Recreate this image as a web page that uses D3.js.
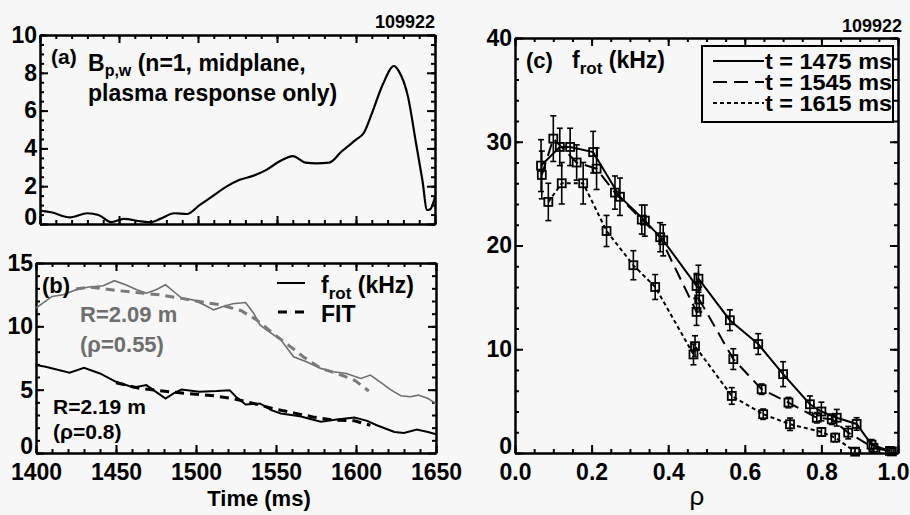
<!DOCTYPE html>
<html>
<head>
<meta charset="utf-8">
<script src="https://cdn.jsdelivr.net/npm/d3@7"></script>
<style>
  body { margin: 0; background: #f7f7f7; }
  svg { display: block; font-family: "Liberation Sans", Arial, sans-serif; font-weight: bold; }
  .tick text { font-size: 23px; font-family: "Liberation Sans", Arial, sans-serif; font-weight: bold; fill: #000; }
  .domain, .tick line { stroke: #000; stroke-width: 2; }
</style>
</head>
<body>
<div id="chart"></div>
<script>
// ---- panel (a): Bp,w vs time
var timeA = [1401, 1407, 1419, 1430, 1437, 1445, 1453, 1464, 1470, 1476, 1485, 1493, 1501, 1510, 1518, 1526, 1535, 1543, 1552, 1560, 1568, 1575, 1583, 1591, 1600, 1605, 1610, 1617, 1624, 1627, 1633, 1638, 1642, 1645, 1647, 1650];
var bpwA = [0.69, 0.62, 0.35, 0.57, 0.48, 0.1, 0.27, 0.14, 0.1, 0.27, 0.57, 0.53, 1.0, 1.52, 1.98, 2.33, 2.55, 2.85, 3.33, 3.59, 3.25, 3.21, 3.25, 3.85, 4.46, 4.83, 5.84, 7.39, 8.36, 8.1, 6.7, 4.27, 2.33, 0.74, 0.78, 1.43];

// ---- panel (b): frot at two radii, measured and fit
var timeR209 = [1400, 1410, 1417, 1425, 1433, 1442, 1449, 1456, 1463, 1469, 1475, 1481, 1486, 1491, 1498, 1505, 1511, 1517, 1523, 1531, 1536, 1540, 1544, 1553, 1561, 1569, 1578, 1586, 1594, 1603, 1609, 1615, 1622, 1628, 1634, 1639, 1645, 1650];
var frotR209 = [11.43, 12.36, 12.49, 12.89, 13.1, 13.2, 13.6, 13.28, 12.89, 12.62, 12.89, 13.28, 12.75, 12.23, 12.09, 11.7, 11.3, 11.57, 11.78, 11.88, 11.04, 10.11, 9.72, 8.93, 7.6, 7.21, 6.68, 6.42, 6.28, 5.89, 6.15, 5.62, 4.96, 4.52, 4.44, 4.57, 4.3, 3.9];
var timeFit209 = [1425, 1433, 1453, 1467, 1477, 1490, 1502, 1515, 1528, 1538, 1548, 1559, 1567, 1578, 1588, 1599, 1608];
var fitR209 = [12.94, 13.1, 12.8, 12.62, 12.49, 12.23, 11.96, 11.7, 11.25, 10.5, 9.45, 8.4, 7.6, 6.68, 6.28, 5.76, 4.89];

var timeR219 = [1400, 1406, 1421, 1430, 1440, 1450, 1461, 1469, 1475, 1481, 1486, 1491, 1502, 1513, 1521, 1525, 1531, 1540, 1547, 1553, 1565, 1578, 1588, 1599, 1607, 1613, 1624, 1630, 1638, 1645, 1650];
var frotR219 = [6.94, 6.81, 6.34, 6.73, 6.28, 5.62, 5.18, 5.36, 4.83, 4.3, 4.7, 5.02, 4.83, 4.89, 4.96, 4.44, 3.83, 3.91, 3.38, 3.12, 2.9, 2.46, 2.64, 2.8, 2.54, 2.19, 1.66, 1.58, 1.85, 1.66, 1.48];
var timeFit219 = [1450, 1465, 1479, 1494, 1511, 1523, 1536, 1548, 1561, 1573, 1586, 1599, 1609];
var fitR219 = [5.55, 5.1, 4.89, 4.7, 4.52, 4.3, 3.91, 3.51, 3.17, 2.85, 2.59, 2.54, 2.19];

// ---- panel (c): frot profiles vs rho
var rho1475 = [0.068, 0.117, 0.144, 0.204, 0.274, 0.339, 0.387, 0.474, 0.479, 0.561, 0.635, 0.700, 0.770, 0.800, 0.840, 0.892, 0.931, 0.979];
var frot1475 = [27.7, 29.5, 29.5, 29.0, 24.7, 22.4, 20.5, 16.1, 16.8, 12.8, 10.5, 7.6, 4.7, 4.0, 3.4, 2.8, 0.8, 0.2];
var err1475 = [2.5, 1.8, 1.8, 2.0, 1.8, 1.5, 1.5, 1.2, 1.3, 1.0, 1.0, 1.2, 0.8, 0.9, 0.8, 0.6, 0.5, 0.4];

var rho1545 = [0.070, 0.100, 0.161, 0.213, 0.261, 0.331, 0.379, 0.474, 0.481, 0.570, 0.644, 0.714, 0.788, 0.827, 0.870, 0.936, 0.984];
var frot1545 = [26.8, 30.3, 28.0, 27.4, 25.1, 22.5, 20.8, 13.6, 14.8, 9.05, 6.15, 4.86, 3.4, 3.25, 1.96, 0.5, 0.15];
var err1545 = [2.3, 2.2, 1.7, 2.0, 1.6, 1.4, 1.4, 1.3, 1.2, 1.0, 0.5, 0.5, 0.5, 0.5, 0.6, 0.4, 0.3];

var rho1615 = [0.087, 0.122, 0.178, 0.239, 0.309, 0.366, 0.466, 0.470, 0.566, 0.648, 0.718, 0.800, 0.836, 0.888];
var frot1615 = [24.2, 26.0, 26.0, 21.4, 18.1, 16.0, 9.5, 10.3, 5.5, 3.74, 2.77, 2.03, 1.48, 0.13];
var err1615 = [1.8, 2.0, 2.0, 1.5, 1.4, 1.2, 1.0, 1.0, 0.8, 0.5, 0.6, 0.4, 0.4, 0.3];

var legendLabels = ["t = 1475 ms", "t = 1545 ms", "t = 1615 ms"];

var timeTicks = [1400, 1450, 1500, 1550, 1600, 1650];
var bpwTicks = [0, 2, 4, 6, 8, 10];
var frotBTicks = [0, 5, 10, 15];
var frotCTicks = [0, 10, 20, 30, 40];
var rhoTicks = [0, 0.2, 0.4, 0.6, 0.8, 1.0];

var svg = d3.select("#chart")
    .append("svg")
    .attr("width", 910)
    .attr("height", 515);

// scales
var xA = d3.scaleLinear().domain([1400, 1650]).range([40, 435]);
var yA = d3.scaleLinear().domain([0, 10]).range([224, 35]);
var xB = d3.scaleLinear().domain([1400, 1650]).range([36, 436]);
var yB = d3.scaleLinear().domain([0, 15]).range([453, 263]);
var xC = d3.scaleLinear().domain([0, 1]).range([515, 898]);
var yC = d3.scaleLinear().domain([0, 40]).range([453, 38]);

// box with inward ticks on all four sides
function drawFrame(x, y, xMajor, xMinor, yMajor, yMinor, xFmt, yFmt) {
    var left = x.range()[0], right = x.range()[1];
    var bottom = y.range()[0], top = y.range()[1];
    var g = svg.append("g");

    g.append("g").attr("transform", "translate(0," + bottom + ")")
        .call(d3.axisBottom(x).tickValues(xMinor).tickSize(-4).tickSizeOuter(0).tickFormat(""));
    g.append("g").attr("transform", "translate(0," + top + ")")
        .call(d3.axisTop(x).tickValues(xMinor).tickSize(-4).tickSizeOuter(0).tickFormat(""));
    g.append("g").attr("transform", "translate(" + left + ",0)")
        .call(d3.axisLeft(y).tickValues(yMinor).tickSize(-4).tickSizeOuter(0).tickFormat(""));
    g.append("g").attr("transform", "translate(" + right + ",0)")
        .call(d3.axisRight(y).tickValues(yMinor).tickSize(-4).tickSizeOuter(0).tickFormat(""));

    var xb = g.append("g").attr("transform", "translate(0," + bottom + ")")
        .call(d3.axisBottom(x).tickValues(xMajor).tickSize(-8).tickSizeOuter(0).tickPadding(11).tickFormat(xFmt));
    g.append("g").attr("transform", "translate(0," + top + ")")
        .call(d3.axisTop(x).tickValues(xMajor).tickSize(-8).tickSizeOuter(0).tickFormat(""));
    var yl = g.append("g").attr("transform", "translate(" + left + ",0)")
        .call(d3.axisLeft(y).tickValues(yMajor).tickSize(-8).tickSizeOuter(0).tickPadding(3).tickFormat(yFmt));
    g.append("g").attr("transform", "translate(" + right + ",0)")
        .call(d3.axisRight(y).tickValues(yMajor).tickSize(-8).tickSizeOuter(0).tickFormat(""));

    // the zero label sits a little above the bottom edge, as in the original
    yl.selectAll(".tick text").filter(function (d) { return d === 0; }).attr("y", -7);
    return { xAxis: xb, yAxis: yl };
}

function zip(xs, ys) { return xs.map(function (d, i) { return [d, ys[i]]; }); }

var fmtInt = d3.format("d");
var blank = function () { return ""; };

// ---------- panel (a)
drawFrame(xA, yA, timeTicks, d3.range(1400, 1651, 10), bpwTicks, d3.range(0, 10.01, 0.5), blank, fmtInt);

var lineA = d3.line()
    .x(function (d) { return xA(d[0]); })
    .y(function (d) { return yA(d[1]); })
    .curve(d3.curveMonotoneX);

svg.append("path")
    .datum(zip(timeA, bpwA))
    .attr("fill", "none")
    .attr("stroke", "#000")
    .attr("stroke-width", 2.2)
    .attr("d", lineA);

svg.append("text").attr("x", 435).attr("y", 28).attr("text-anchor", "end")
    .attr("font-size", 18).text("109922");
svg.append("text").attr("x", 51).attr("y", 64).attr("font-size", 21).text("(a)");
var tA = svg.append("text").attr("x", 88).attr("y", 71).attr("font-size", 23);
tA.append("tspan").text("B");
tA.append("tspan").attr("font-size", 16).attr("dy", 5).text("p,w");
tA.append("tspan").attr("dy", -5).text(" (n=1, midplane,");
svg.append("text").attr("x", 88).attr("y", 101).attr("font-size", 23).text("plasma response only)");

// ---------- panel (b)
drawFrame(xB, yB, timeTicks, d3.range(1400, 1651, 10), frotBTicks, d3.range(0, 15.01, 1), fmtInt, fmtInt);

var lineB = d3.line()
    .x(function (d) { return xB(d[0]); })
    .y(function (d) { return yB(d[1]); });

svg.append("path").datum(zip(timeR209, frotR209))
    .attr("fill", "none").attr("stroke", "#6e6e6e").attr("stroke-width", 1.6).attr("d", lineB);
svg.append("path").datum(zip(timeFit209, fitR209))
    .attr("fill", "none").attr("stroke", "#7a7a7a").attr("stroke-width", 3)
    .attr("stroke-dasharray", "9,6").attr("d", lineB);
svg.append("path").datum(zip(timeR219, frotR219))
    .attr("fill", "none").attr("stroke", "#000").attr("stroke-width", 2).attr("d", lineB);
svg.append("path").datum(zip(timeFit219, fitR219))
    .attr("fill", "none").attr("stroke", "#000").attr("stroke-width", 3)
    .attr("stroke-dasharray", "9,6").attr("d", lineB);

svg.append("text").attr("x", 42).attr("y", 293).attr("font-size", 22).text("(b)");
svg.append("text").attr("x", 80).attr("y", 322).attr("font-size", 22)
    .attr("fill", "#6e6e6e").text("R=2.09 m");
svg.append("text").attr("x", 80).attr("y", 352).attr("font-size", 22)
    .attr("fill", "#6e6e6e").text("(\u03c1=0.55)");
svg.append("text").attr("x", 53).attr("y", 414).attr("font-size", 21).text("R=2.19 m");
svg.append("text").attr("x", 53).attr("y", 439).attr("font-size", 21).text("(\u03c1=0.8)");

// legend (b)
svg.append("line").attr("x1", 277).attr("x2", 305).attr("y1", 283).attr("y2", 283)
    .attr("stroke", "#000").attr("stroke-width", 2);
svg.append("line").attr("x1", 278).attr("x2", 304).attr("y1", 312).attr("y2", 312)
    .attr("stroke", "#000").attr("stroke-width", 3).attr("stroke-dasharray", "9,8");
var lgB = svg.append("text").attr("x", 321).attr("y", 293).attr("font-size", 23);
lgB.append("tspan").text("f");
lgB.append("tspan").attr("font-size", 17).attr("dy", 6).text("rot");
lgB.append("tspan").attr("dy", -6).text("  (kHz)");
svg.append("text").attr("x", 321).attr("y", 322).attr("font-size", 23).text("FIT");

svg.append("text").attr("x", 259).attr("y", 506).attr("text-anchor", "middle")
    .attr("font-size", 22).text("Time (ms)");

// ---------- panel (c)
var fc = drawFrame(xC, yC, rhoTicks, d3.range(0, 1.001, 0.05), frotCTicks, d3.range(0, 40.01, 2),
    d3.format(".1f"), fmtInt);
// last rho label hugs the right edge of the page
fc.xAxis.selectAll(".tick text").filter(function (d) { return d === 1; })
    .attr("text-anchor", "end").attr("x", 11);

var series = [
    { rho: rho1475, v: frot1475, e: err1475, dash: null },
    { rho: rho1545, v: frot1545, e: err1545, dash: "13,7" },
    { rho: rho1615, v: frot1615, e: err1615, dash: "4,3" }
];

var lineC = d3.line()
    .x(function (d) { return xC(d[0]); })
    .y(function (d) { return yC(d[1]); });

series.forEach(function (s) {
    svg.append("path").datum(zip(s.rho, s.v))
        .attr("fill", "none").attr("stroke", "#000").attr("stroke-width", 2)
        .attr("stroke-dasharray", s.dash).attr("d", lineC);

    var pts = s.rho.map(function (r, i) { return { r: r, v: s.v[i], e: s.e[i] }; });
    var g = svg.append("g");
    g.selectAll(".eb").data(pts).enter().append("line")
        .attr("x1", function (d) { return xC(d.r); })
        .attr("x2", function (d) { return xC(d.r); })
        .attr("y1", function (d) { return yC(d.v - d.e); })
        .attr("y2", function (d) { return yC(d.v + d.e); })
        .attr("stroke", "#000").attr("stroke-width", 1.6);
    [-1, 1].forEach(function (sgn) {
        g.selectAll(".cap").data(pts).enter().append("line")
            .attr("x1", function (d) { return xC(d.r) - 3; })
            .attr("x2", function (d) { return xC(d.r) + 3; })
            .attr("y1", function (d) { return yC(d.v + sgn * d.e); })
            .attr("y2", function (d) { return yC(d.v + sgn * d.e); })
            .attr("stroke", "#000").attr("stroke-width", 1.6);
    });
    g.selectAll("rect").data(pts).enter().append("rect")
        .attr("x", function (d) { return xC(d.r) - 4; })
        .attr("y", function (d) { return yC(d.v) - 4; })
        .attr("width", 8).attr("height", 8)
        .attr("fill", "none").attr("stroke", "#000").attr("stroke-width", 1.8);
});

svg.append("text").attr("x", 902).attr("y", 32).attr("text-anchor", "end")
    .attr("font-size", 18).text("109922");
svg.append("text").attr("x", 526).attr("y", 68).attr("font-size", 22).text("(c)");
var tC = svg.append("text").attr("x", 572).attr("y", 68).attr("font-size", 23);
tC.append("tspan").text("f");
tC.append("tspan").attr("font-size", 17).attr("dy", 6).text("rot");
tC.append("tspan").attr("dy", -6).text(" (kHz)");

// legend (c)
svg.append("rect").attr("x", 702).attr("y", 46).attr("width", 191).attr("height", 76)
    .attr("fill", "none").attr("stroke", "#000").attr("stroke-width", 2);
var legendDash = [null, "14,7", "4,3"];
legendLabels.forEach(function (lab, i) {
    var yy = 61 + i * 21;
    svg.append("line").attr("x1", 713).attr("x2", 764).attr("y1", yy).attr("y2", yy)
        .attr("stroke", "#000").attr("stroke-width", 2).attr("stroke-dasharray", legendDash[i]);
    svg.append("text").attr("x", 765).attr("y", yy + 8).attr("font-size", 22)
        .attr("textLength", 127).attr("lengthAdjust", "spacingAndGlyphs").text(lab);
});

svg.append("text").attr("x", 697).attr("y", 505).attr("text-anchor", "middle")
    .attr("font-size", 26).attr("font-weight", "normal").text("\u03c1");
</script>
</body>
</html>
